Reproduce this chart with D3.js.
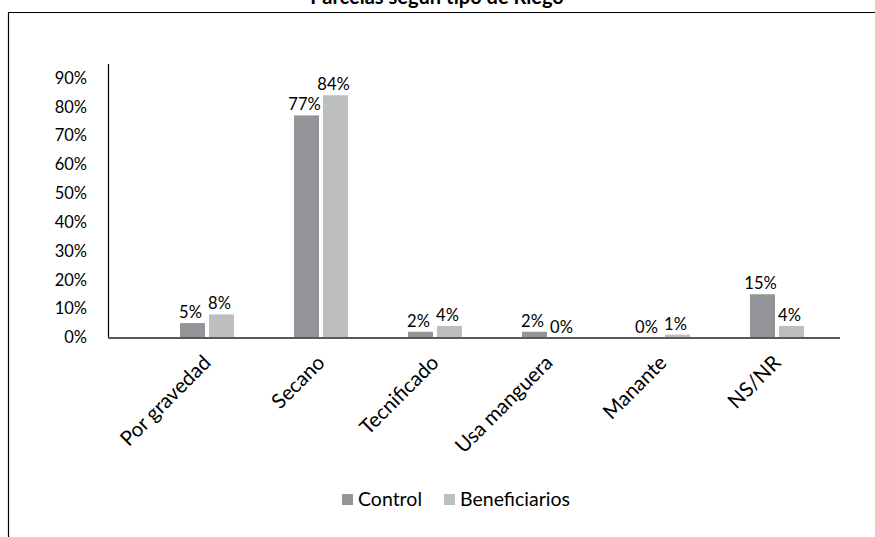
<!DOCTYPE html>
<html>
<head>
<meta charset="utf-8">
<script src="https://cdn.jsdelivr.net/npm/d3@7"></script>
<style>
  html, body { margin: 0; padding: 0; background: #fff; }
  svg { display: block; font-family: Lato, "Open Sans", sans-serif; }
</style>
</head>
<body>
<svg id="chart" width="875" height="537"></svg>
<script>
// Riego por parcela: porcentaje de parcelas en cada tipo de riego
const categories = ["Por gravedad", "Secano", "Tecnificado", "Usa manguera", "Manante", "NS/NR"];
const seriesNames = ["Control", "Beneficiarios"];
const controlValues = [0.05, 0.77, 0.02, 0.02, 0.00, 0.15];
const beneficiariosValues = [0.08, 0.84, 0.04, 0.00, 0.01, 0.04];
const yTicks = [0, 0.1, 0.2, 0.3, 0.4, 0.5, 0.6, 0.7, 0.8, 0.9];
const colors = ["#939598", "#bcbec0"];
const title = "Parcelas según tipo de Riego";

const seriesValues = [controlValues, beneficiariosValues];
const rows = categories.map((c, i) => ({
  category: c,
  values: seriesNames.map((s, j) => ({ series: s, value: seriesValues[j][i] }))
}));

const svg = d3.select("#chart");

// Outer frame (top and left edges)
svg.append("path")
  .attr("d", "M8.5,537 V12.5 H875")
  .attr("fill", "none")
  .attr("stroke", "#000")
  .attr("stroke-width", 1.2);

// Title
svg.append("text")
  .attr("x", 437)
  .attr("y", 3.5)
  .attr("text-anchor", "middle")
  .attr("font-size", 20)
  .attr("font-weight", "bold")
  .attr("fill", "#000")
  .text(title);

const plotLeft = 108, plotRight = 840;
const y = d3.scaleLinear().domain([0, 0.95]).range([337.5, 63.5]);
const x0 = d3.scaleBand().domain(categories).range([150, 834]).padding(0);
const x1 = d3.scaleBand().domain(seriesNames).range([0, 54]).paddingInner(0.138);
const groupOffset = (x0.bandwidth() - 54) / 2;

// Y axis
const yAxis = d3.axisLeft(y)
  .tickValues(yTicks)
  .tickFormat(d3.format(".0%"))
  .tickSize(0)
  .tickPadding(21);
const gy = svg.append("g")
  .attr("transform", `translate(${plotLeft},0)`)
  .call(yAxis);
gy.select(".domain").attr("stroke", "#000").attr("stroke-width", 1.2);
gy.selectAll("text")
  .attr("font-size", 16.5)
  .attr("font-family", "Lato, sans-serif")
  .attr("fill", "#000");

// Bars
const groups = svg.append("g").selectAll("g")
  .data(rows)
  .join("g")
  .attr("transform", d => `translate(${x0(d.category) + groupOffset},0)`);

groups.selectAll("rect")
  .data(d => d.values)
  .join("rect")
  .attr("x", d => x1(d.series))
  .attr("y", d => y(d.value))
  .attr("width", x1.bandwidth())
  .attr("height", d => y(0) - y(d.value))
  .attr("fill", (d, i) => colors[i]);

// Value labels
groups.selectAll("text")
  .data(d => d.values)
  .join("text")
  .attr("x", d => x1(d.series) + x1.bandwidth() / 2 - 2)
  .attr("y", d => y(d.value) - 5)
  .attr("text-anchor", "middle")
  .attr("font-size", 16.5)
  .attr("fill", "#000")
  .text(d => d3.format(".0%")(d.value));

// X axis line
svg.append("line")
  .attr("x1", plotLeft)
  .attr("x2", plotRight)
  .attr("y1", y(0) + 0.5)
  .attr("y2", y(0) + 0.5)
  .attr("stroke", "#595959")
  .attr("stroke-width", 2);

// Category labels, rotated
svg.append("g").selectAll("text")
  .data(categories)
  .join("text")
  .attr("transform", d => `translate(${x0(d) + x0.bandwidth() / 2 + 5},364) rotate(-45)`)
  .attr("text-anchor", "end")
  .attr("font-size", 20.5)
  .attr("fill", "#000")
  .text(d => d);

// Legend
const legend = svg.append("g").attr("transform", "translate(342,494)");
const legendX = [0, 102];
const items = legend.selectAll("g")
  .data(seriesNames)
  .join("g")
  .attr("transform", (d, i) => `translate(${legendX[i]},0)`);
items.append("rect")
  .attr("width", 11)
  .attr("height", 11)
  .attr("fill", (d, i) => colors[i]);
items.append("text")
  .attr("x", 16)
  .attr("y", 11.5)
  .attr("font-size", 19.5)
  .attr("fill", "#000")
  .text(d => d);
</script>
</body>
</html>
